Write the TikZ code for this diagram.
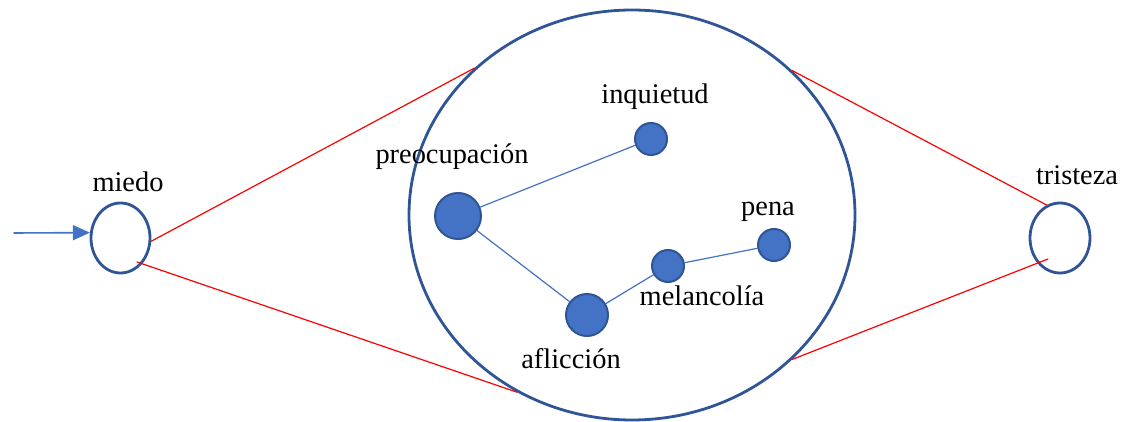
\documentclass[tikz,border=0pt]{standalone}
\usepackage{fontspec}
\setmainfont{Liberation Serif}
\usepackage{tikz}
\usetikzlibrary{arrows.meta,shapes.geometric}
\definecolor{emOutline}{HTML}{2F5597}
\definecolor{emFill}{HTML}{4472C4}
\definecolor{emRed}{HTML}{FF0000}
\tikzset{
  em diagram/.style={font=\fontsize{14.2}{17}\selectfont,
    line cap=round, line join=round},
  em ring/.style={ellipse, draw=emOutline, fill=white, line width=1.4pt,
    inner sep=0pt},
  em dot/.style={circle, draw=emOutline, fill=emFill, line width=1pt,
    inner sep=0pt},
  em link/.style={draw=emFill, line width=0.6pt},
  em zoom/.style={draw=emRed, line width=0.6pt},
  em arrow/.style={-{Triangle[length=8.5pt,width=7.5pt]}, draw=emFill, line width=0.8pt},
  em label/.style={inner sep=1pt}
}
\begin{document}
\begin{tikzpicture}[em diagram,x=0.5pt,y=-0.5pt]
\useasboundingbox (0,0) rectangle (1137,422);
\node[em ring, minimum width=29.5pt, minimum height=35pt] (miedo) at (120.5,238) {};
\node[em ring, minimum width=30pt, minimum height=35pt] (tristeza) at (1060,238) {};
\node[em ring, minimum width=223pt, minimum height=205pt] (campo) at (632,215) {};
\node[em dot, minimum size=23pt] (preocupacion) at (458,216) {};
\node[em dot, minimum size=16pt] (inquietud) at (651,139) {};
\node[em dot, minimum size=21pt] (afliccion) at (587,315) {};
\node[em dot, minimum size=16pt] (melancolia) at (668,266) {};
\node[em dot, minimum size=16pt] (pena) at (774,245) {};
\node[em label] (miedo text) at (128,182) {miedo};
\node[em label] (tristeza text) at (1077,175) {tristeza};
\node[em label] (preocupacion text) at (452,157) {preocupación};
\node[em label] (inquietud text) at (655,97) {inquietud};
\node[em label] (pena text) at (768,212) {pena};
\node[em label] (melancolia text) at (702,296) {melancolía};
\node[em label] (afliccion text) at (571,359) {aflicción};
\coordinate (entrada) at (14,233);
\coordinate (miedo in) at (137,262);
\coordinate (tristeza in) at (1048,259);
\draw[em arrow] (entrada) -- (miedo.170);
\draw[em zoom] (miedo.-6) -- (campo.137.8);
\draw[em zoom] (miedo in) -- (campo.-123);
\draw[em zoom] (campo.42.2) -- (tristeza.112.8);
\draw[em zoom] (campo.-42.5) -- (tristeza in);
\draw[em link] (preocupacion) -- (inquietud);
\draw[em link] (preocupacion) -- (afliccion);
\draw[em link] (afliccion) -- (melancolia);
\draw[em link] (melancolia) -- (pena);
\end{tikzpicture}
\end{document}
